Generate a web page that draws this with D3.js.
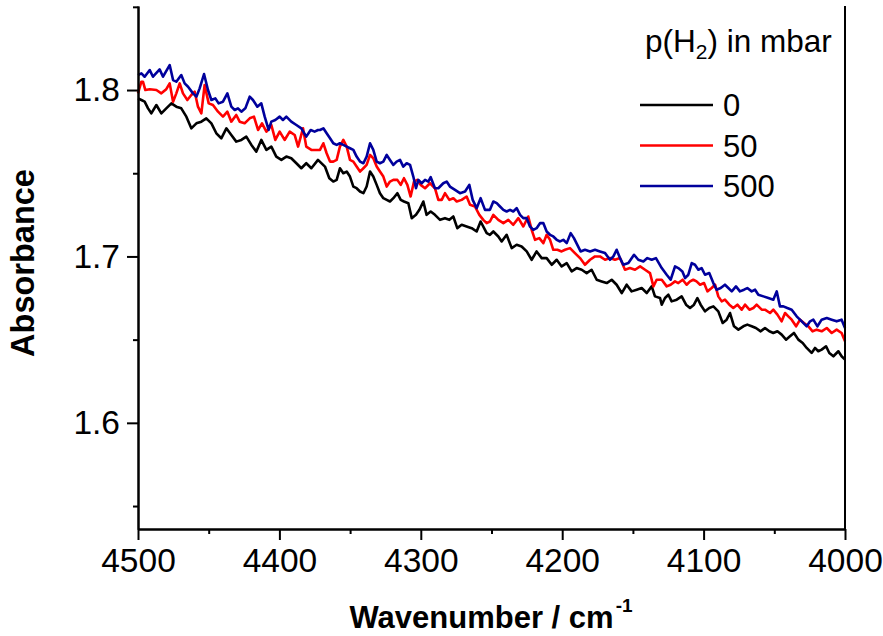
<!DOCTYPE html>
<html>
<head>
<meta charset="utf-8">
<script src="https://cdn.jsdelivr.net/npm/d3@7"></script>
<style>
  body { margin: 0; background: #fff; }
  svg { display: block; font-family: "Liberation Sans", Arial, sans-serif; }
</style>
</head>
<body>
<div class="chart"></div>
<script>
// [wavenumber (cm-1), absorbance]
const spec0 = [
  [4500,1.795],[4497.6,1.794],[4495.3,1.793],[4492.9,1.789],[4490.6,1.786],[4487,1.791],[4483.5,1.786],[4480,1.789],
  [4476.4,1.792],[4472.9,1.790],[4469.4,1.789],[4465.8,1.784],[4462.3,1.777],[4458.7,1.780],[4455.2,1.781],[4451.7,1.783],
  [4448.1,1.780],[4444.6,1.774],[4441.1,1.771],[4437.5,1.777],[4434,1.773],[4430.5,1.769],[4426.9,1.770],[4423.4,1.772],
  [4419.8,1.767],[4416.3,1.763],[4412.8,1.770],[4409.2,1.764],[4405.7,1.766],[4402.2,1.760],[4398.6,1.758],[4395.1,1.760],
  [4391.6,1.759],[4388,1.756],[4384.5,1.753],[4381,1.756],[4377.4,1.753],[4372.7,1.758],[4367.8,1.754],[4364.7,1.747],
  [4361.9,1.745],[4359.5,1.746],[4357.2,1.753],[4354.8,1.750],[4352.4,1.751],[4350.1,1.748],[4347.7,1.742],[4345.4,1.741],
  [4343,1.739],[4340.6,1.738],[4338.3,1.742],[4335.9,1.751],[4333.6,1.748],[4331.2,1.743],[4328.9,1.738],[4326.5,1.735],
  [4324.1,1.734],[4321.8,1.733],[4319.4,1.735],[4316.6,1.738],[4314.2,1.734],[4311.9,1.733],[4308.8,1.732],[4306.4,1.723],
  [4303.4,1.725],[4301,1.728],[4298.2,1.733],[4295.9,1.725],[4293,1.727],[4290,1.725],[4286.4,1.722],[4282.9,1.723],
  [4279.8,1.722],[4277,1.724],[4274.2,1.717],[4271.1,1.719],[4267.6,1.718],[4264,1.717],[4260.5,1.715],[4257.7,1.721],
  [4254.6,1.716],[4253.4,1.714],[4251.1,1.713],[4248.7,1.715],[4245.2,1.712],[4242.8,1.709],[4239.3,1.713],[4235.7,1.705],
  [4232.2,1.707],[4228.7,1.706],[4225.1,1.703],[4221.6,1.698],[4218.1,1.703],[4214.5,1.699],[4211,1.699],[4207.4,1.695],
  [4203.9,1.698],[4200.4,1.694],[4196.8,1.696],[4193.3,1.691],[4189.8,1.693],[4186.2,1.692],[4182.7,1.690],[4179.2,1.692],
  [4175.6,1.686],[4172.1,1.685],[4168.5,1.684],[4165,1.686],[4161.5,1.683],[4157.9,1.678],[4154.4,1.683],[4150.9,1.679],
  [4147.3,1.680],[4143.8,1.681],[4140.2,1.678],[4136.7,1.682],[4134.4,1.676],[4130.8,1.675],[4129.6,1.671],[4127.3,1.675],
  [4124.9,1.677],[4122.6,1.673],[4119,1.674],[4115.5,1.676],[4112.4,1.671],[4109.6,1.669],[4106.8,1.671],[4104.4,1.675],
  [4102.1,1.671],[4099,1.667],[4096,1.669],[4093.1,1.670],[4089.6,1.667],[4086.5,1.660],[4083.7,1.662],[4081.3,1.666],
  [4078.5,1.658],[4075.4,1.656],[4071.9,1.658],[4069.1,1.659],[4066,1.658],[4063,1.657],[4059.6,1.655],[4056.6,1.657],
  [4053.5,1.655],[4050.7,1.654],[4047.8,1.655],[4044.8,1.653],[4041.7,1.650],[4038.9,1.652],[4036.1,1.654],[4033,1.650],
  [4029.9,1.648],[4027.1,1.645],[4023.6,1.642],[4021.2,1.645],[4018.9,1.643],[4016.5,1.644],[4013.4,1.646],[4011.1,1.642],
  [4008.2,1.640],[4004.7,1.643],[4002.4,1.640],[4000,1.638]
];

const spec50 = [
  [4500,1.798],[4497.6,1.805],[4496.5,1.805],[4494.8,1.800],[4491.7,1.8005],[4487,1.800],[4483.5,1.798],[4480,1.8005],
  [4477.6,1.804],[4475.2,1.793],[4472.9,1.798],[4470.5,1.804],[4468.2,1.798],[4465.1,1.794],[4462.3,1.797],[4459.9,1.799],
  [4457.6,1.790],[4455.2,1.786],[4452.9,1.803],[4450,1.792],[4447,1.791],[4443.4,1.787],[4439.9,1.784],[4436.8,1.787],
  [4434,1.781],[4430.5,1.785],[4428.1,1.781],[4424.6,1.780],[4421,1.783],[4418,1.784],[4415.1,1.776],[4412.3,1.780],
  [4409.2,1.775],[4405.7,1.779],[4402.9,1.770],[4399.8,1.775],[4396.3,1.770],[4392.7,1.775],[4389.2,1.773],[4386.8,1.766],
  [4383.3,1.777],[4381,1.766],[4377.4,1.764],[4374,1.764],[4371.3,1.764],[4368.9,1.768],[4366.6,1.762],[4364.2,1.757],
  [4361.9,1.757],[4359.5,1.758],[4357.2,1.766],[4354.8,1.770],[4352.4,1.766],[4350.1,1.758],[4347.7,1.757],[4345.4,1.754],
  [4343,1.751],[4340.6,1.753],[4338.3,1.755],[4335.9,1.761],[4333.6,1.759],[4331.2,1.754],[4328.9,1.751],[4326.5,1.748],
  [4324.1,1.742],[4321.8,1.745],[4319.4,1.746],[4316.6,1.746],[4314.2,1.743],[4311.9,1.747],[4309.5,1.743],[4307.2,1.736],
  [4304.8,1.745],[4302.5,1.746],[4300.1,1.743],[4297,1.741],[4293.5,1.744],[4290,1.741],[4287.6,1.734],[4285.2,1.734],
  [4282.9,1.738],[4279.8,1.734],[4277,1.735],[4274.6,1.733],[4271.1,1.734],[4267.6,1.736],[4265.2,1.731],[4261.7,1.730],
  [4258.6,1.725],[4255.8,1.722],[4253.4,1.720],[4251.1,1.721],[4248.7,1.725],[4245.2,1.722],[4241.6,1.720],[4238.1,1.722],
  [4234.6,1.719],[4231,1.723],[4227.5,1.718],[4224,1.724],[4221.6,1.716],[4219.2,1.710],[4216.2,1.711],[4213.3,1.708],
  [4211,1.713],[4208.6,1.710],[4206.3,1.704],[4203.4,1.704],[4200.4,1.703],[4198,1.704],[4194.5,1.705],[4191,1.702],
  [4187.4,1.699],[4183.9,1.695],[4180.3,1.698],[4176.8,1.700],[4173.3,1.700],[4169.7,1.698],[4166.2,1.699],[4162.7,1.698],
  [4159.1,1.699],[4155.6,1.692],[4152.1,1.693],[4148.5,1.692],[4144.9,1.694],[4141.4,1.692],[4137.9,1.690],[4135.5,1.682],
  [4133.2,1.686],[4129.6,1.686],[4126.1,1.682],[4123.3,1.683],[4120.2,1.685],[4117.9,1.684],[4114.8,1.686],[4112,1.683],
  [4109.6,1.685],[4107.3,1.686],[4105,1.685],[4102.5,1.683],[4099.7,1.684],[4097.3,1.679],[4094.3,1.681],[4091.9,1.683],
  [4089.6,1.676],[4087.2,1.673],[4084.9,1.674],[4081.8,1.671],[4079,1.669],[4076.1,1.671],[4073.1,1.668],[4070.7,1.671],
  [4067.6,1.668],[4064.8,1.669],[4062.5,1.671],[4058.9,1.668],[4056.6,1.668],[4053,1.666],[4050.7,1.668],[4047.8,1.665],
  [4044.8,1.661],[4042.4,1.666],[4040.1,1.664],[4037.7,1.662],[4034.6,1.658],[4031.8,1.662],[4029,1.660],[4025.9,1.658],
  [4022.9,1.655],[4020,1.656],[4016.5,1.655],[4012.9,1.657],[4009.4,1.654],[4005.9,1.656],[4002.4,1.654],[4000,1.649]
];

const spec500 = [
  [4500,1.809],[4497.6,1.810],[4495.3,1.808],[4491.7,1.812],[4489.4,1.808],[4484.7,1.8124],[4482.3,1.808],[4477.6,1.815],
  [4475.2,1.806],[4472.9,1.805],[4469.4,1.809],[4467,1.804],[4464.6,1.802],[4461.1,1.798],[4458.7,1.796],[4456.4,1.801],
  [4453.3,1.8096],[4450.5,1.800],[4448.1,1.794],[4445.3,1.795],[4443,1.792],[4439.9,1.793],[4436.8,1.798],[4434,1.790],
  [4431.6,1.788],[4429.3,1.789],[4426.9,1.787],[4424.1,1.789],[4421,1.796],[4418.7,1.794],[4415.6,1.790],[4412.8,1.792],
  [4410.4,1.784],[4407.6,1.776],[4405.7,1.781],[4402.9,1.782],[4399.8,1.784],[4397.5,1.782],[4395.1,1.784],[4391.6,1.781],
  [4388,1.779],[4384.5,1.777],[4381,1.772],[4377.9,1.776],[4375.1,1.775],[4372.7,1.776],[4371.3,1.776],[4368.9,1.777],
  [4366.6,1.774],[4364.2,1.771],[4361.9,1.768],[4359.5,1.767],[4357.2,1.768],[4354.8,1.767],[4352.4,1.766],[4350.1,1.765],
  [4347.7,1.764],[4345.4,1.760],[4343,1.757],[4340.6,1.756],[4338.3,1.760],[4335.9,1.768],[4333.6,1.764],[4331.2,1.757],
  [4328.9,1.756],[4326.5,1.757],[4324.1,1.761],[4321.8,1.758],[4319.4,1.755],[4317.1,1.757],[4314.7,1.758],[4312.4,1.754],
  [4310,1.756],[4307.6,1.755],[4305.3,1.748],[4303.4,1.741],[4301.7,1.746],[4299.4,1.744],[4297,1.746],[4294.7,1.745],
  [4293,1.7476],[4290,1.741],[4287.6,1.741],[4284.1,1.744],[4281.7,1.745],[4279.4,1.742],[4275.8,1.740],[4272.3,1.738],
  [4268.7,1.739],[4265.7,1.743],[4263.3,1.734],[4260.5,1.729],[4257.7,1.735],[4254.6,1.728],[4251.1,1.728],[4248.7,1.733],
  [4246.3,1.732],[4244,1.730],[4241.6,1.728],[4239.3,1.727],[4236.9,1.728],[4234.6,1.727],[4232.2,1.729],[4229.8,1.725],
  [4227.5,1.723],[4225.1,1.723],[4222.8,1.718],[4220.4,1.716],[4218.1,1.717],[4215.7,1.720],[4213.3,1.720],[4211,1.715],
  [4208.6,1.713],[4206.3,1.712],[4203.9,1.710],[4201.5,1.709],[4199.2,1.710],[4196.8,1.708],[4194,1.714],[4191.7,1.711],
  [4189.3,1.707],[4187,1.703],[4183.9,1.704],[4180.3,1.703],[4176.8,1.704],[4173.3,1.703],[4169.7,1.702],[4166.2,1.698],
  [4163.8,1.700],[4161.5,1.704],[4159.1,1.699],[4156.8,1.695],[4153.2,1.696],[4149.2,1.701],[4146.2,1.698],[4142.6,1.697],
  [4139.8,1.699],[4136.7,1.698],[4133.7,1.699],[4129.6,1.693],[4126.1,1.689],[4123.3,1.686],[4120.2,1.694],[4117.9,1.693],
  [4115,1.691],[4113.1,1.687],[4110.8,1.689],[4108.4,1.696],[4106.1,1.695],[4103.7,1.692],[4101.4,1.693],[4099,1.689],
  [4096,1.690],[4093.1,1.684],[4090.8,1.680],[4087.9,1.681],[4084.9,1.683],[4082.5,1.681],[4080.1,1.679],[4077.1,1.682],
  [4074.3,1.679],[4071.4,1.680],[4069.1,1.681],[4066,1.679],[4063.6,1.680],[4061.3,1.677],[4057.7,1.676],[4054.2,1.675],
  [4050.7,1.674],[4048.3,1.679],[4046,1.670],[4043.6,1.670],[4040.8,1.669],[4037.7,1.668],[4034.2,1.664],[4030.6,1.661],
  [4027.1,1.658],[4024.7,1.661],[4022.4,1.662],[4019.5,1.658],[4016.5,1.662],[4012.9,1.663],[4009.4,1.662],[4005.9,1.661],
  [4002.4,1.662],[4000,1.657]
];

const pressures = ["0", "50", "500"];
const colors = ["#000000", "#ff0000", "#00009c"];
const xMajor = [4500, 4400, 4300, 4200, 4100, 4000];
const xMinor = [4450, 4350, 4250, 4150, 4050];
const yMajor = [1.6, 1.7, 1.8];
const yMinor = [1.55, 1.65, 1.75, 1.85];

const series = [spec0, spec50, spec500];

const margin = {top: 6, right: 38, bottom: 107, left: 138};
const width = 883 - margin.left - margin.right, height = 636 - margin.top - margin.bottom;

const svg = d3.select(".chart")
  .append("svg")
  .attr("width", 883)
  .attr("height", 636);

const g = svg.append("g")
  .attr("transform", "translate(" + margin.left + "," + margin.top + ")");

const xScale = d3.scaleLinear().domain([4500, 4000]).range([0, width]);
const yScale = d3.scaleLinear().domain([1.5362, 1.8505]).range([height, 0]);

const line = d3.line()
  .x(d => xScale(d[0]))
  .y(d => yScale(d[1]));

g.selectAll(".spec")
  .data(series)
  .enter()
  .append("path")
  .attr("class", "spec")
  .attr("d", line)
  .attr("fill", "none")
  .attr("stroke", (d, i) => colors[i])
  .attr("stroke-width", 2.6)
  .attr("stroke-linejoin", "round");

// axes
function styleAxis(sel) {
  sel.selectAll("path, line").attr("stroke", "#000").attr("stroke-width", 2);
  sel.selectAll("text").attr("fill", "#000").style("font-size", "33.5px").style("font-family", "Liberation Sans, Arial, sans-serif");
}

g.append("g")
  .attr("transform", `translate(0,${height})`)
  .call(d3.axisBottom(xScale).tickValues(xMinor).tickSize(5).tickSizeOuter(0).tickFormat(""))
  .call(styleAxis);

g.append("g")
  .attr("transform", `translate(0,${height})`)
  .call(d3.axisBottom(xScale).tickValues(xMajor).tickSize(11).tickSizeOuter(0).tickPadding(8).tickFormat(d3.format("d")))
  .call(styleAxis);

g.append("g")
  .call(d3.axisLeft(yScale).tickValues(yMinor).tickSize(5).tickSizeOuter(0).tickFormat(""))
  .call(styleAxis);

g.append("g")
  .call(d3.axisLeft(yScale).tickValues(yMajor).tickSize(11).tickSizeOuter(0).tickPadding(7).tickFormat(d3.format(".1f")))
  .call(styleAxis);

// right frame
g.append("line")
  .attr("x1", width).attr("x2", width)
  .attr("y1", 0).attr("y2", height)
  .attr("stroke", "#000").attr("stroke-width", 2);

// axis titles
const xTitle = svg.append("text")
  .attr("x", 491)
  .attr("y", 628)
  .attr("text-anchor", "middle")
  .attr("font-size", 31)
  .attr("font-weight", "bold");
xTitle.append("tspan").text("Wavenumber / cm");
xTitle.append("tspan").attr("font-size", 19).attr("dx", 2).attr("dy", -16).text("-1");

svg.append("text")
  .attr("transform", "translate(34,263) rotate(-90)")
  .attr("text-anchor", "middle")
  .attr("font-size", 32.5)
  .attr("font-weight", "bold")
  .text("Absorbance");

// legend
const legend = svg.append("g").attr("transform", "translate(640,0)");

const lt = legend.append("text")
  .attr("x", 5)
  .attr("y", 52)
  .attr("font-size", 31.5);
lt.append("tspan").text("p(H");
lt.append("tspan").attr("font-size", 21).attr("dy", 7).text("2");
lt.append("tspan").attr("dy", -7).text(") in mbar");

legend.selectAll("line.key")
  .data(pressures)
  .enter()
  .append("line")
  .attr("class", "key")
  .attr("x1", 0).attr("x2", 73)
  .attr("y1", (d, i) => 105 + i * 40.5)
  .attr("y2", (d, i) => 105 + i * 40.5)
  .attr("stroke", (d, i) => colors[i])
  .attr("stroke-width", 2.6);

legend.selectAll("text.key")
  .data(pressures)
  .enter()
  .append("text")
  .attr("class", "key")
  .attr("x", 83)
  .attr("y", (d, i) => 116 + i * 40.5)
  .attr("font-size", 31)
  .text(d => d);
</script>
</body>
</html>
